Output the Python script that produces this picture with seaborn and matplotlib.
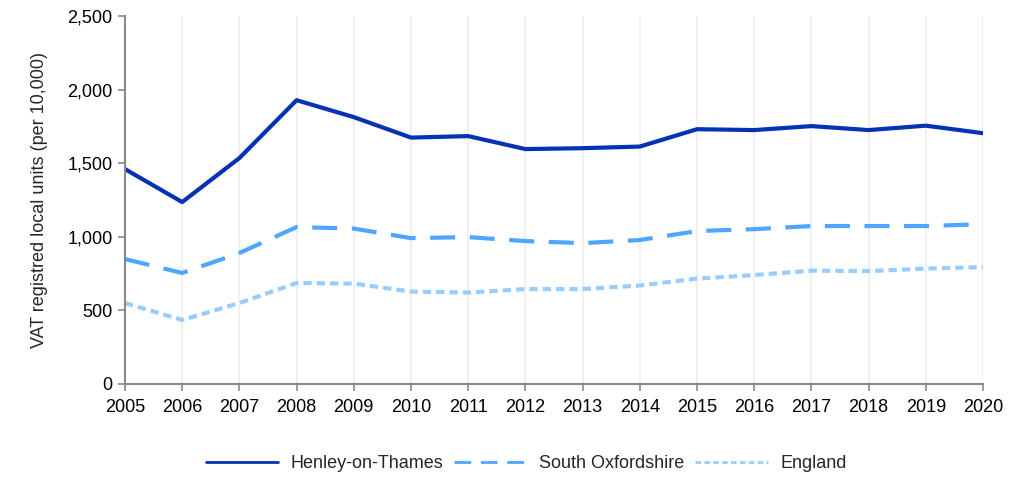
import matplotlib
matplotlib.use("Agg")
import matplotlib.pyplot as plt
import seaborn as sns
import pandas as pd

years = list(range(2005, 2021))
henley = [1460, 1236, 1535, 1928, 1813, 1674, 1684, 1596, 1602, 1613, 1731, 1725, 1752, 1725, 1755, 1704]
south_oxon = [849, 754, 890, 1066, 1056, 991, 998, 971, 957, 978, 1039, 1052, 1073, 1073, 1073, 1086]
england = [550, 435, 550, 686, 682, 628, 621, 645, 645, 669, 716, 740, 770, 767, 784, 794]
series_names = ["Henley-on-Thames", "South Oxfordshire", "England"]
y_ticks = [0, 500, 1000, 1500, 2000, 2500]

df = pd.DataFrame({
    "year": years * 3,
    "value": henley + south_oxon + england,
    "area": [series_names[0]] * 16 + [series_names[1]] * 16 + [series_names[2]] * 16,
})

sns.set_theme(style="white")
plt.rcParams["font.family"] = ["Liberation Sans", "DejaVu Sans"]

fig = plt.figure(figsize=(10.18, 5.04), dpi=100)
ax = fig.add_axes([125/1018, 1-384/504, (983-125)/1018, (384-16)/504])

palette = {series_names[0]: "#0432b5", series_names[1]: "#4da6ff", series_names[2]: "#99ccff"}

for name in series_names:
    sub = df[df["area"] == name]
    sns.lineplot(data=sub, x="year", y="value", ax=ax, color=palette[name], lw=3, label=name)
lines = ax.get_lines()
lines[1].set_dashes([6, 3.5])
lines[2].set_dashes([2, 1.2])

ax.set_xlim(2005, 2020)
ax.set_ylim(0, 2500)
ax.set_xticks(years)
ax.set_yticks(y_ticks)
ax.set_yticklabels([f"{v:,}" for v in y_ticks])
ax.tick_params(axis="both", labelsize=13, colors="#000000", length=5, color="#888888", width=1.2)
ax.tick_params(axis="x", direction="out", bottom=True, pad=6)
ax.tick_params(axis="y", left=True, pad=4)
ax.xaxis.grid(True, color="#eeeeee", lw=1.2)
ax.yaxis.grid(False)
for s in ["top", "right"]:
    ax.spines[s].set_visible(False)
for s in ["left", "bottom"]:
    ax.spines[s].set_color("#888888")
    ax.spines[s].set_linewidth(1.5)
ax.set_xlabel("")
ax.set_ylabel("VAT registred local units (per 10,000)", fontsize=13, labelpad=14)

ax.legend_.remove()
leg = fig.legend(handles=lines, labels=series_names, loc="center", bbox_to_anchor=(0.517, 1-464/504),
                 ncol=3, frameon=False, fontsize=13, handlelength=4.0, columnspacing=0.6, handletextpad=0.7)
for h in leg.get_lines():
    h.set_linewidth(2)

fig.savefig("out.png", dpi=100)
